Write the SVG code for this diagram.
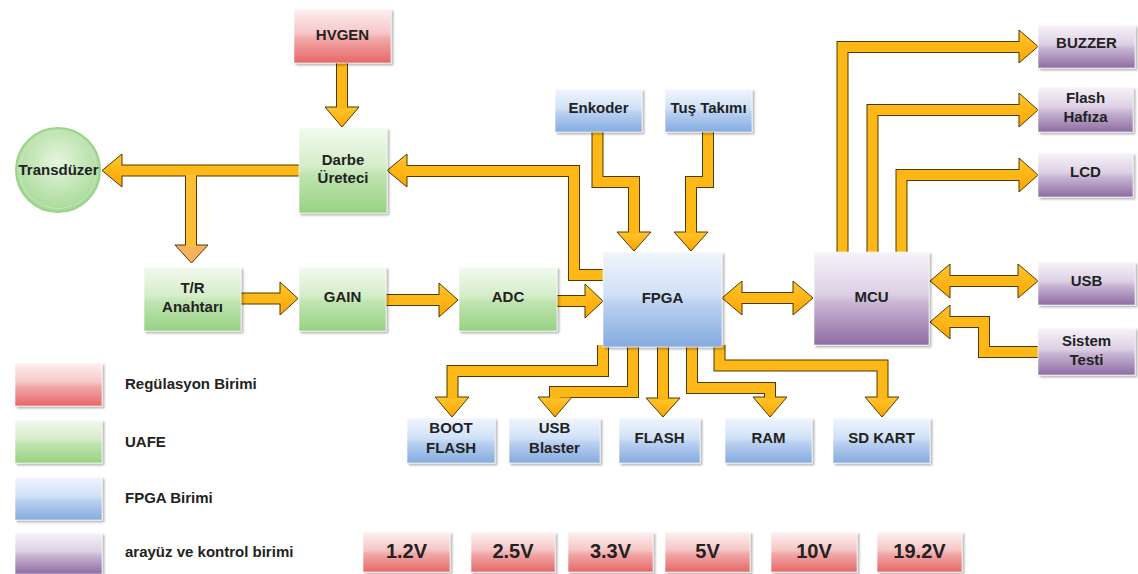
<svg xmlns="http://www.w3.org/2000/svg" width="1138" height="574" viewBox="0 0 1138 574">
<defs>
<linearGradient id="gR" x1="0" y1="0" x2="0" y2="1"><stop offset="0" stop-color="#fdf0f0"/><stop offset="0.45" stop-color="#f6c6c6"/><stop offset="0.55" stop-color="#f1a8a8"/><stop offset="1" stop-color="#e76767"/></linearGradient>
<linearGradient id="gG" x1="0" y1="0" x2="0" y2="1"><stop offset="0" stop-color="#f2faee"/><stop offset="0.45" stop-color="#d4edc9"/><stop offset="0.55" stop-color="#c0e4b1"/><stop offset="1" stop-color="#96d282"/></linearGradient>
<linearGradient id="gB" x1="0" y1="0" x2="0" y2="1"><stop offset="0" stop-color="#f0f5fd"/><stop offset="0.45" stop-color="#d0e1f6"/><stop offset="0.55" stop-color="#b9d0f0"/><stop offset="1" stop-color="#85abdf"/></linearGradient>
<linearGradient id="gP" x1="0" y1="0" x2="0" y2="1"><stop offset="0" stop-color="#f7f3f9"/><stop offset="0.45" stop-color="#ddd0e5"/><stop offset="0.55" stop-color="#c8b5d4"/><stop offset="1" stop-color="#8d6ca3"/></linearGradient>
<radialGradient id="gC" cx="0.5" cy="0.4" r="0.6"><stop offset="0" stop-color="#e6f5df"/><stop offset="1" stop-color="#a6d996"/></radialGradient>
<linearGradient id="gH" x1="0" y1="0" x2="0" y2="1"><stop offset="0" stop-color="#ffc62e"/><stop offset="1" stop-color="#ffa400"/></linearGradient>
<filter id="sh" x="-10%" y="-10%" width="130%" height="130%"><feDropShadow dx="2" dy="2" stdDeviation="1.2" flood-color="#000" flood-opacity="0.3"/></filter>
<style>
.n rect{stroke:#ffffff;stroke-opacity:0.6;stroke-width:1;filter:url(#sh)}
.r rect{fill:url(#gR)}.g rect{fill:url(#gG)}.b rect{fill:url(#gB)}.p rect{fill:url(#gP)}
text{font-family:"Liberation Sans",Arial,sans-serif;font-weight:bold;font-size:15px;fill:#222;text-anchor:middle}
.lg text{text-anchor:start}
.v text{font-size:20px}
.o{fill:none;stroke:#4d3b00;stroke-width:12;stroke-linejoin:miter;stroke-linecap:butt}
.i{fill:none;stroke:#fdb817;stroke-width:10;stroke-linejoin:miter;stroke-linecap:butt}
.h{fill:url(#gH);stroke:#4d3b00;stroke-width:1;stroke-linejoin:miter}
</style>
</defs>
<rect width="1138" height="574" fill="#ffffff"/>
<g id="connectors">
<g id="outlines">
<path class="o" d="M342,63 V109"/>
<path class="o" d="M299,170.5 H120"/>
<path class="o" d="M191,176 V247"/>
<path class="o" d="M603,275 H574 V171 H405"/>
<path class="o" d="M597.5,132 V182 H634 V234"/>
<path class="o" d="M708,132 V182 H691 V234"/>
<path class="o" d="M557,301 H587"/>
<path class="o" d="M241,298.5 H282"/>
<path class="o" d="M386,300 H441"/>
<path class="o" d="M740,298 H795"/>
<path class="o" d="M842.5,252 V47 H1021"/>
<path class="o" d="M872.5,252 V110 H1021"/>
<path class="o" d="M901.5,252 V175 H1021"/>
<path class="o" d="M948,281 H1020"/>
<path class="o" d="M1038,352 H984 V322 H948"/>
<path class="o" d="M603,345 V371 H452.5 V399"/>
<path class="o" d="M633,345 V392 H555 V399"/>
<path class="o" d="M663,345 V400"/>
<path class="o" d="M692,345 V388 H770 V399"/>
<path class="o" d="M719.5,345 V365.5 H882.5 V399"/>
</g>
<g id="heads">
<polygon class="h" points="325,107 359,107 342,127"/>
<polygon class="h" points="122,154 122,187 102,170.5"/>
<polygon class="h" style="fill:#f9b15e" points="175,245 208,245 191.5,263"/>
<polygon class="h" points="407,154 407,187 387,170.5"/>
<polygon class="h" points="617,232 651,232 634,251"/>
<polygon class="h" points="674,232 708,232 691,251"/>
<polygon class="h" points="585,284 585,318 603,301"/>
<polygon class="h" points="280,282 280,315 298,298.5"/>
<polygon class="h" points="439,283 439,317 458,300"/>
<polygon class="h" points="742,281 742,315 722,298"/>
<polygon class="h" points="793,281 793,315 813,298"/>
<polygon class="h" points="1019,30 1019,63 1038,46.5"/>
<polygon class="h" points="1019,93 1019,127 1038,110"/>
<polygon class="h" points="1019,158 1019,192 1038,175"/>
<polygon class="h" points="950,264 950,298 930,281"/>
<polygon class="h" points="1018,264 1018,298 1038,281"/>
<polygon class="h" points="950,305 950,339 930,322"/>
<polygon class="h" points="435,397 469,397 452,417"/>
<polygon class="h" points="538,397 572,397 555,417"/>
<polygon class="h" points="646,398 680,398 663,417"/>
<polygon class="h" points="753,397 787,397 770,417"/>
<polygon class="h" points="865,397 899,397 882,417"/>
</g>
<g id="inners">
<path class="i" d="M342,63 V109"/>
<path class="i" d="M299,170.5 H120"/>
<path class="i" style="stroke:#fcbf35" d="M191,175 V247"/>
<path class="i" d="M603,275 H574 V171 H405"/>
<path class="i" d="M597.5,132 V182 H634 V234"/>
<path class="i" d="M708,132 V182 H691 V234"/>
<path class="i" d="M557,301 H587"/>
<path class="i" d="M241,298.5 H282"/>
<path class="i" d="M386,300 H441"/>
<path class="i" d="M740,298 H795"/>
<path class="i" d="M842.5,252 V47 H1021"/>
<path class="i" d="M872.5,252 V110 H1021"/>
<path class="i" d="M901.5,252 V175 H1021"/>
<path class="i" d="M948,281 H1020"/>
<path class="i" d="M1038,352 H984 V322 H948"/>
<path class="i" d="M603,345 V371 H452.5 V399"/>
<path class="i" d="M633,345 V392 H555 V399"/>
<path class="i" d="M663,345 V400"/>
<path class="i" d="M692,345 V388 H770 V399"/>
<path class="i" d="M719.5,345 V365.5 H882.5 V399"/>
</g>
</g>
<g id="hvgen" class="n r"><rect x="294" y="9" width="97" height="54"/><text x="342.5" y="40">HVGEN</text></g>
<g id="darbe" class="n g"><rect x="299" y="128" width="88" height="85"/><text x="343" y="165">Darbe</text><text x="343" y="183">Üreteci</text></g>
<g id="transduzer"><circle cx="58" cy="170" r="42" fill="url(#gC)" stroke="#9ad48a" stroke-width="2"/><circle cx="58" cy="170" r="38.5" fill="none" stroke="#c6e8bb" stroke-width="1"/><text x="58.5" y="175">Transdüzer</text></g>
<g id="tr" class="n g"><rect x="144" y="267" width="97" height="64"/><text x="192.5" y="293">T/R</text><text x="192.5" y="312">Anahtarı</text></g>
<g id="gain" class="n g"><rect x="299" y="267" width="87" height="64"/><text x="342.5" y="302">GAIN</text></g>
<g id="adc" class="n g"><rect x="459" y="267" width="98" height="64"/><text x="508" y="302">ADC</text></g>
<g id="enkoder" class="n b"><rect x="555" y="89" width="87" height="43"/><text x="598.5" y="113">Enkoder</text></g>
<g id="tus" class="n b"><rect x="665" y="89" width="87" height="43"/><text x="708.5" y="113">Tuş Takımı</text></g>
<g id="fpga" class="n b"><rect x="603" y="252" width="119" height="95"/><text x="662.5" y="303">FPGA</text></g>
<g id="mcu" class="n p"><rect x="814" y="252" width="115" height="93"/><text x="871.5" y="302">MCU</text></g>
<g id="buzzer" class="n p"><rect x="1038" y="25" width="97" height="43"/><text x="1086.5" y="48">BUZZER</text></g>
<g id="flashhafiza" class="n p"><rect x="1038" y="87" width="95" height="45"/><text x="1085.5" y="103">Flash</text><text x="1085.5" y="122">Hafıza</text></g>
<g id="lcd" class="n p"><rect x="1038" y="153" width="95" height="44"/><text x="1085.5" y="177">LCD</text></g>
<g id="usb" class="n p"><rect x="1038" y="262" width="97" height="43"/><text x="1086.5" y="286">USB</text></g>
<g id="sistem" class="n p"><rect x="1038" y="328" width="97" height="47"/><text x="1086.5" y="346">Sistem</text><text x="1086.5" y="365">Testi</text></g>
<g id="bootflash" class="n b"><rect x="407" y="418" width="88" height="45"/><text x="451" y="433">BOOT</text><text x="451" y="453">FLASH</text></g>
<g id="usbblaster" class="n b"><rect x="509" y="418" width="91" height="45"/><text x="554.5" y="433">USB</text><text x="554.5" y="453">Blaster</text></g>
<g id="flash" class="n b"><rect x="619" y="418" width="81" height="45"/><text x="659.5" y="443">FLASH</text></g>
<g id="ram" class="n b"><rect x="725" y="418" width="87" height="45"/><text x="768.5" y="443">RAM</text></g>
<g id="sdkart" class="n b"><rect x="833" y="418" width="97" height="45"/><text x="881.5" y="443">SD KART</text></g>
<g id="legend" class="lg">
<g id="lg-reg" class="n r"><rect x="15" y="363" width="87" height="43"/><text x="125" y="389">Regülasyon Birimi</text></g>
<g id="lg-uafe" class="n g"><rect x="15" y="420" width="87" height="43"/><text x="125" y="447">UAFE</text></g>
<g id="lg-fpga" class="n b"><rect x="15" y="477" width="87" height="43"/><text x="125" y="503">FPGA Birimi</text></g>
<g id="lg-arayuz" class="n p"><rect x="15" y="533" width="87" height="41"/><text x="125" y="557">arayüz ve kontrol birimi</text></g>
</g>
<g id="voltages" class="v">
<g id="v12" class="n r"><rect x="363" y="532" width="87" height="40"/><text x="406.5" y="558">1.2V</text></g>
<g id="v25" class="n r"><rect x="471" y="532" width="84" height="40"/><text x="513" y="558">2.5V</text></g>
<g id="v33" class="n r"><rect x="568" y="532" width="85" height="40"/><text x="610.5" y="558">3.3V</text></g>
<g id="v5" class="n r"><rect x="665" y="532" width="85" height="40"/><text x="707.5" y="558">5V</text></g>
<g id="v10" class="n r"><rect x="771" y="532" width="86" height="40"/><text x="814" y="558">10V</text></g>
<g id="v192" class="n r"><rect x="877" y="532" width="85" height="40"/><text x="919.5" y="558">19.2V</text></g>
</g>
</svg>
